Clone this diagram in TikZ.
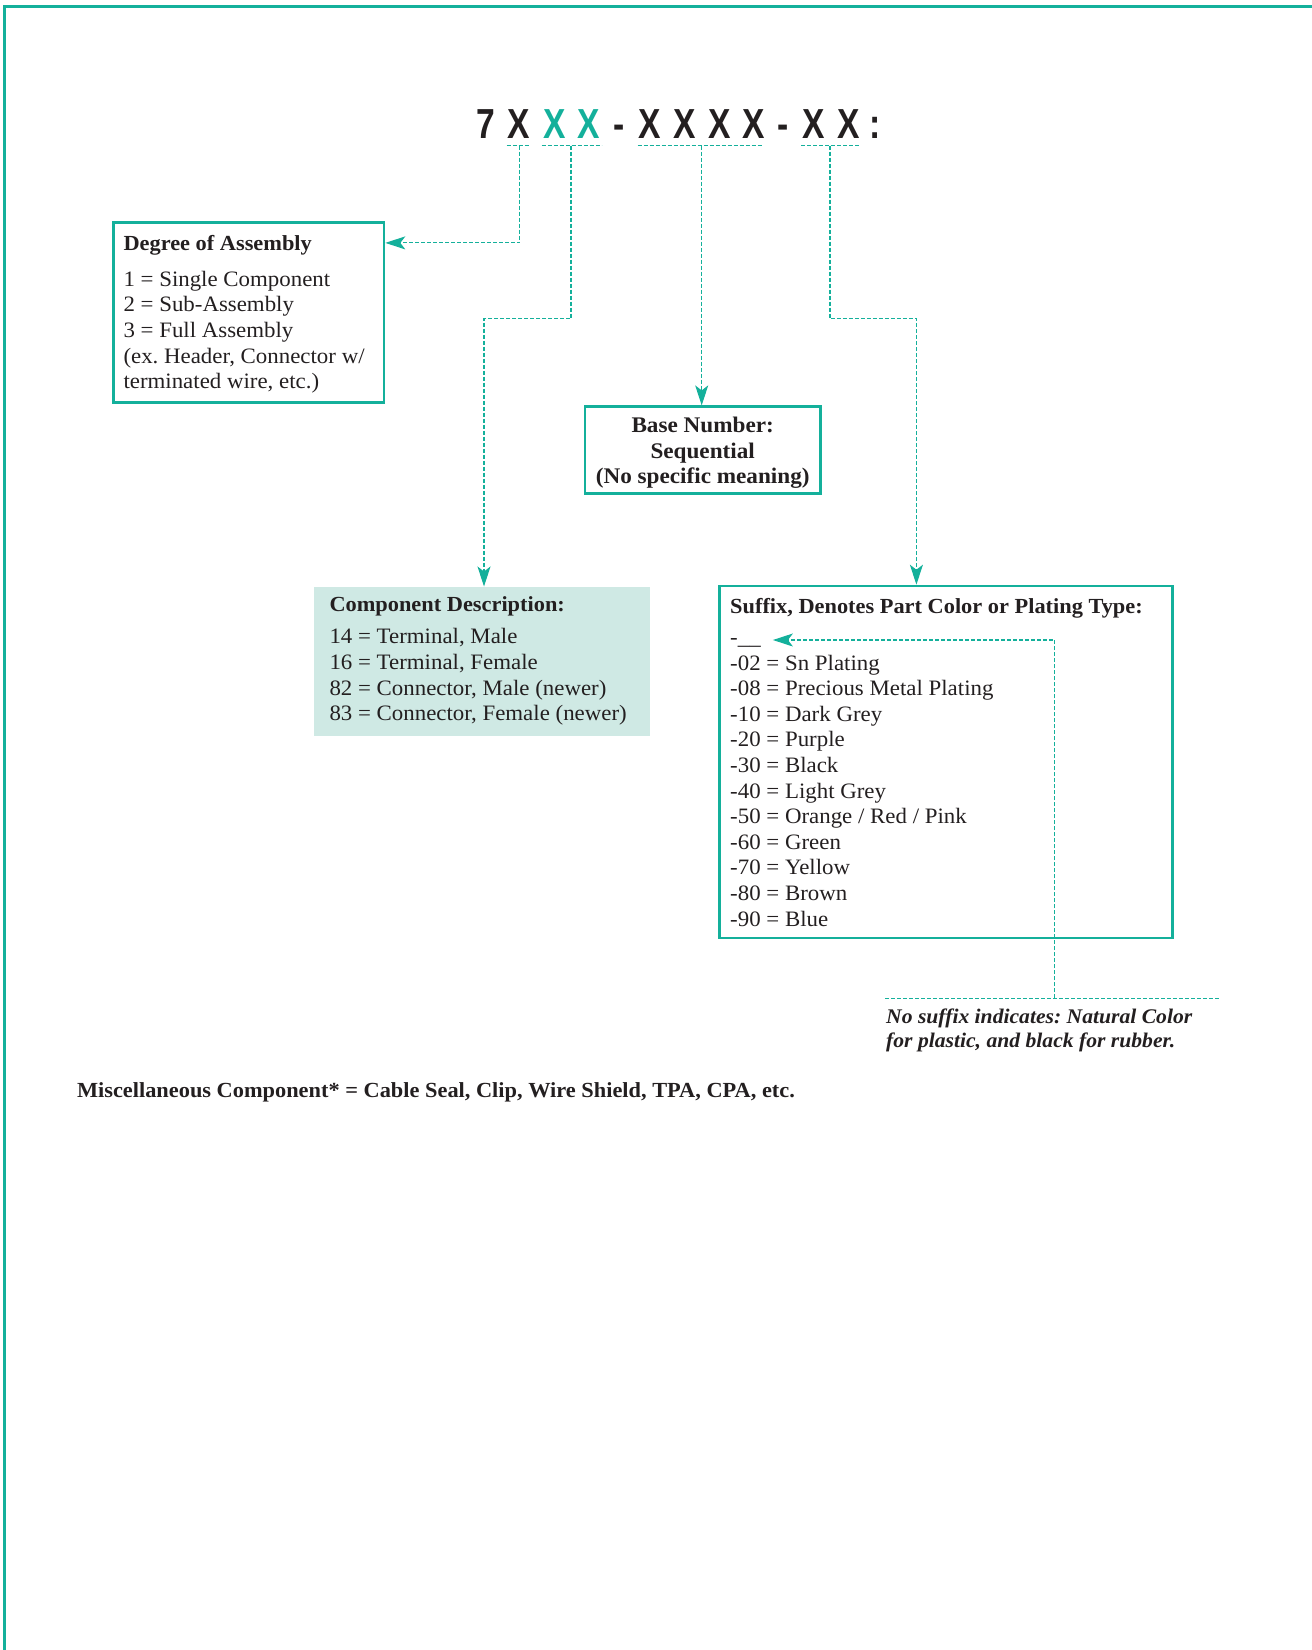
\documentclass[tikz,border=0pt]{standalone}
\usepackage{fontspec}
\setmainfont[FakeStretch=1.04]{Liberation Serif}
\newfontfamily\titlefont[FakeStretch=0.8]{Liberation Sans}
\usetikzlibrary{arrows.meta,calc}
\definecolor{teal1}{RGB}{20,176,155}
\definecolor{tealfill}{RGB}{207,233,228}
\definecolor{ink}{RGB}{35,31,32}
\frenchspacing
\begin{document}
\begin{tikzpicture}[x=1pt,y=-1pt,
  box/.style={draw=teal1,line width=2.6pt,inner sep=0pt},
  fillbox/.style={fill=tealfill,inner sep=0pt},
  conn/.style={draw=teal1,line width=1.1pt,dash pattern=on 4pt off 2pt},
  tip/.style={-{Stealth[length=20pt,width=13pt,inset=5pt,fill=teal1]}},
  txt/.style={anchor=base west,inner sep=0pt,text=ink,font=\fontsize{22}{25.6}\selectfont},
  hd/.style={anchor=base west,inner sep=0pt,text=ink,font=\fontsize{21.5}{25.6}\selectfont\bfseries},
  ttl/.style={anchor=base,inner sep=0pt,font=\fontsize{42}{42}\titlefont\bfseries}]
\useasboundingbox (0,0) rectangle (1312,1650);
% frame
\draw[teal1,line width=2.6pt] (4.7,1660) -- (4.7,6.2) -- (1320,6.2);

% title characters
\foreach \c/\x/\col [count=\i] in {7/485.7/ink,X/519/ink,X/554.3/teal1,X/589/teal1,-/619/ink,X/650/ink,X/685/ink,X/719.3/ink,X/753.3/ink,-/782.7/ink,X/813.3/ink,X/848.3/ink,:/875/ink}
  \node[ttl,text=\col] (t\i) at (\x,138.3) {\c};

% underline marks
\coordinate (u1) at (519.3,145.7);
\coordinate (u2) at (571,145.7);
\coordinate (u3) at (701.7,145.7);
\coordinate (u4) at (830,145.7);
\draw[conn] (506.7,145.7) -- (529.3,145.7);
\draw[conn] (541.7,145.7) -- (601.7,145.7);
\draw[conn] (637.7,145.7) -- (761.7,145.7);
\draw[conn] (801,145.7) -- (860,145.7);

% boxes
\node[box,minimum width=270.7pt,minimum height=179.6pt] (deg) at (248.65,312.5) {};
\node[fillbox,minimum width=336pt,minimum height=149pt] (comp) at (482,661.2) {};
\node[box,minimum width=235.7pt,minimum height=86.7pt] (base) at (702.85,450.05) {};
\node[box,minimum width=453pt,minimum height=352pt] (suf) at (946,762) {};

% connectors
\draw[conn,tip] (u1) |- ($(deg.north east)+(0,21.5)$);
\coordinate (k2) at (571,318.8);
\draw[conn,tip] (u2) -- (k2) -| ($(comp.north)+(2,0)$);
\draw[conn,tip] (u3) -- (u3 |- base.north);
\coordinate (k4) at (916.4,318.8);
\draw[conn,tip] (u4) |- (k4) -- (k4 |- suf.north);

% degree of assembly text
\node[hd] (degh) at (123.3,250) {Degree of Assembly};
\foreach \t/\y [count=\i] in {{1 = Single Component}/286,{2 = Sub-Assembly}/311.7,{3 = Full Assembly}/337.4,{(ex. Header, Connector w/}/363.1,{terminated wire, etc.)}/388.8}
  \node[txt] (degl\i) at (123.3,\y) {\t};

% component description text
\node[hd] (comph) at (329.3,611.7) {Component Description:};
\foreach \t/\y [count=\i] in {{14 = Terminal, Male}/643.3,{16 = Terminal, Female}/669.3,{82 = Connector, Male (newer)}/695,{83 = Connector, Female (newer)}/720.7}
  \node[txt] (compl\i) at (329.3,\y) {\t};

% base number text
\foreach \t/\y [count=\i] in {{Base Number:}/432.4,{Sequential}/458,{(No specific meaning)}/483.6}
  \node[hd,anchor=base,font=\fontsize{22.3}{25.6}\selectfont\bfseries] (basel\i) at (702.7,\y) {\t};

% suffix text
\node[hd] (sufh) at (730,613.3) {Suffix, Denotes Part Color or Plating Type:};
\node[txt] (suf0) at (730,644) {-\_\_};
\foreach \t/\y [count=\i] in {{-02 = Sn Plating}/670,{-08 = Precious Metal Plating}/695.6,{-10 = Dark Grey}/721.2,{-20 = Purple}/746.8,{-30 = Black}/772.4,{-40 = Light Grey}/798,{-50 = Orange / Red / Pink}/823.6,{-60 = Green}/849.2,{-70 = Yellow}/874.8,{-80 = Brown}/900.4,{-90 = Blue}/926}
  \node[txt] (sufl\i) at (730,\y) {\t};

% no-suffix note
\coordinate (n1) at (885,998.3);
\coordinate (n2) at (1220,998.3);
\coordinate (n3) at (1054.3,998.3);
\coordinate (n4) at (1054.3,640);
\coordinate (a5) at ($(suf0.east)+(12,0)$);
\draw[conn] (n1) -- (n2);
\draw[conn,tip] (n3) -- (n4) -- (a5 |- n4);
\node[txt,font=\fontsize{20.8}{24}\selectfont\bfseries\itshape] (note1) at (886,1023.7) {No suffix indicates: Natural Color};
\node[txt,font=\fontsize{20.8}{24}\selectfont\bfseries\itshape] (note2) at (886,1047.7) {for plastic, and black for rubber.};

% misc line
\node[txt,font=\fontsize{21.5}{25}\selectfont\bfseries] (misc) at (76.8,1097) {Miscellaneous Component* = Cable Seal, Clip, Wire Shield, TPA, CPA, etc.};
\end{tikzpicture}
\end{document}
